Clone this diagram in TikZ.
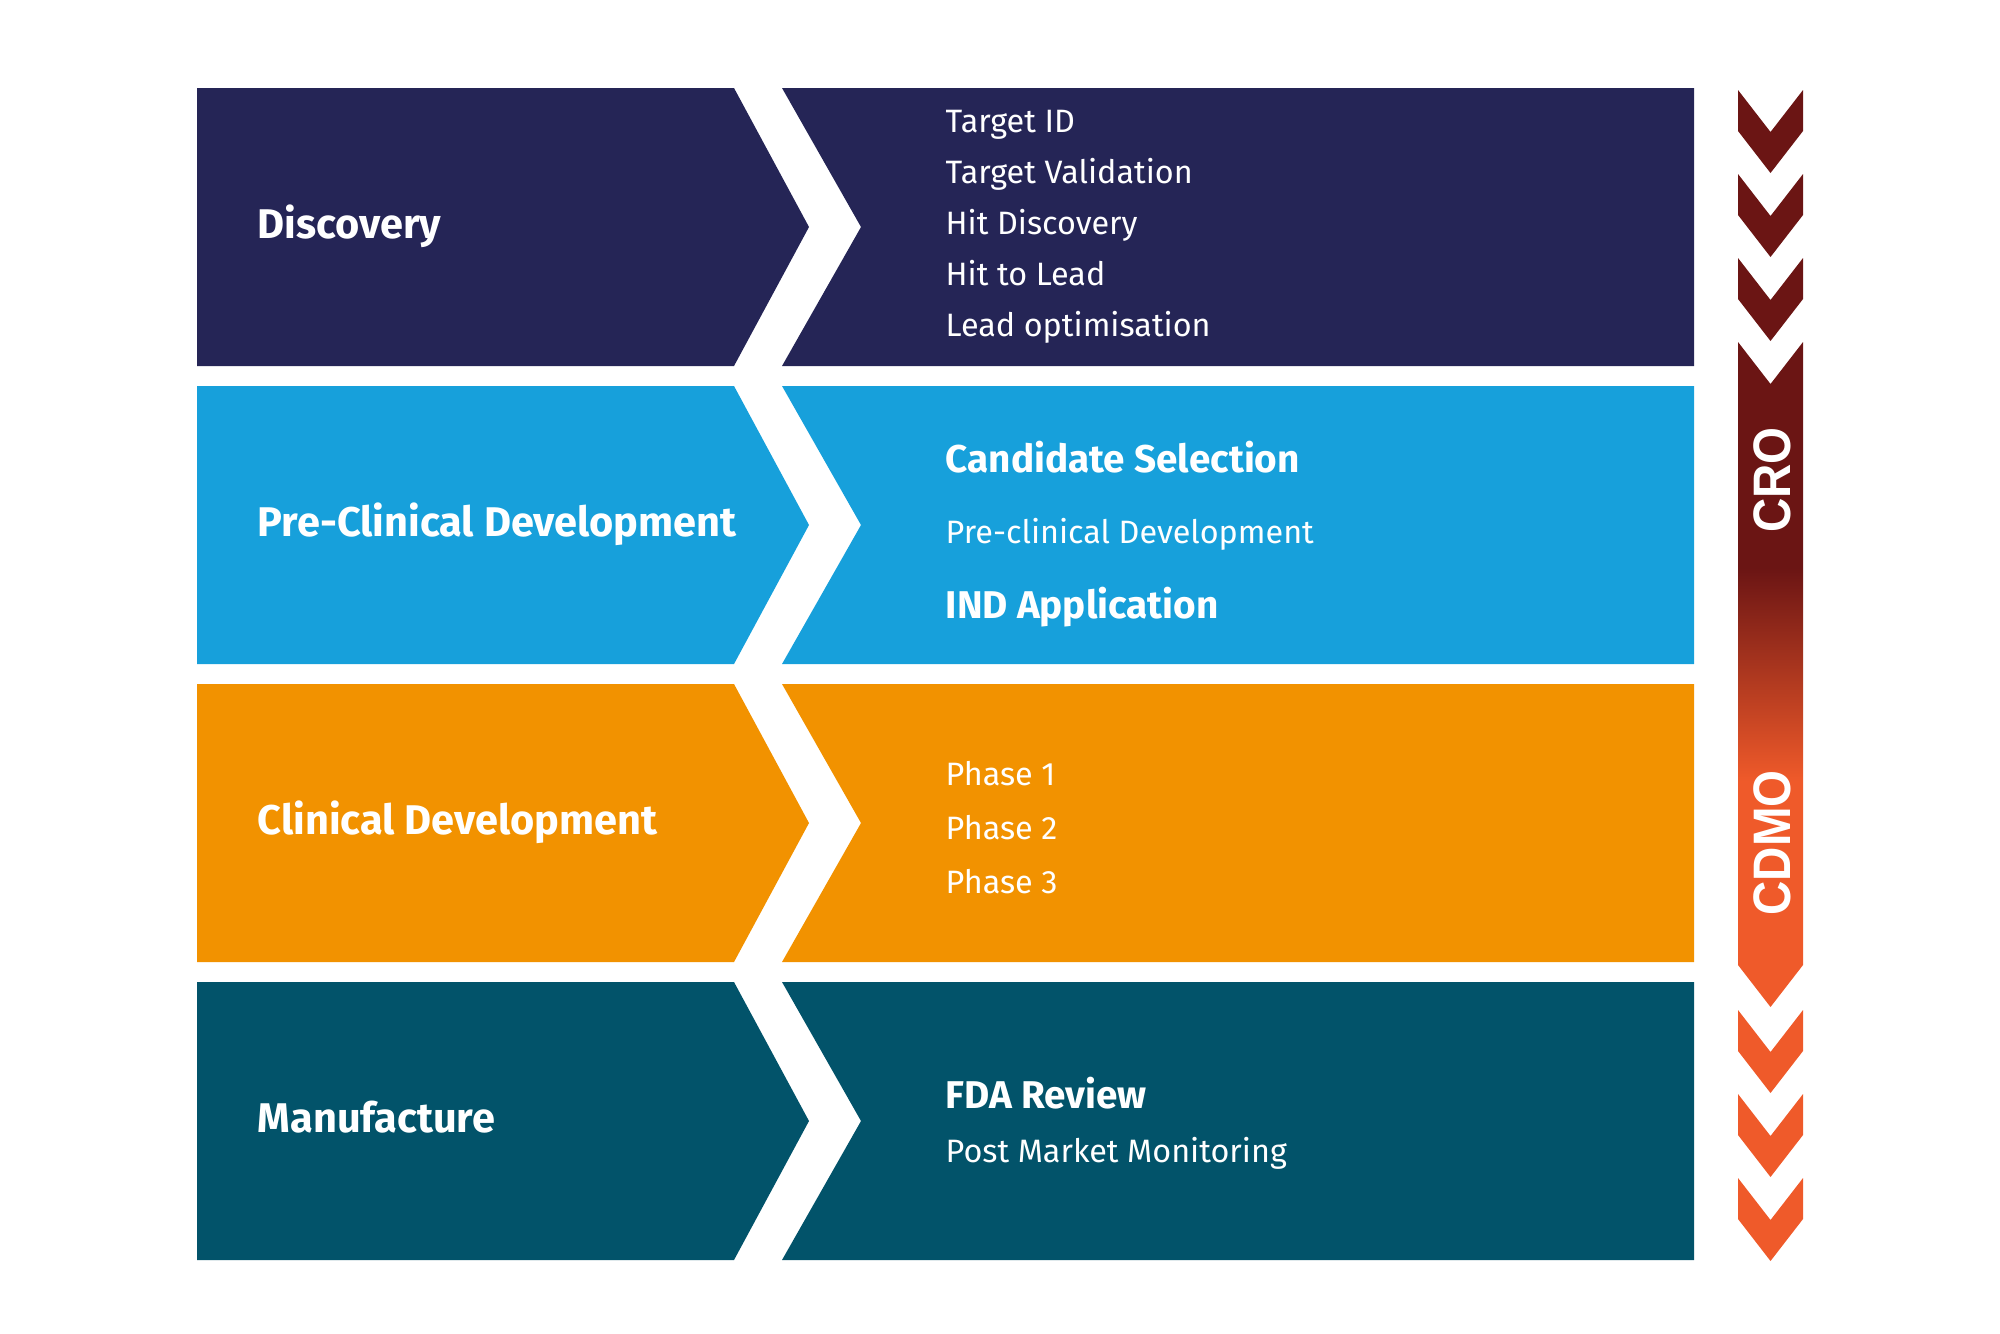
\documentclass[tikz,border=0pt]{standalone}
\usepackage{fontspec}
\setmainfont{Fira Sans}
\newfontfamily\tagfont[FakeStretch=0.9]{Liberation Sans}
\usetikzlibrary{positioning}

\definecolor{navy}{HTML}{252556}
\definecolor{sky}{HTML}{17A0DB}
\definecolor{amber}{HTML}{F29200}
\definecolor{petrol}{HTML}{02536A}
\definecolor{croRed}{HTML}{6B1514}
\definecolor{cdmoOrange}{HTML}{EF5A2A}

\pgfdeclareverticalshading{croshade}{100bp}{color(0bp)=(cdmoOrange); color(42bp)=(cdmoOrange); color(58bp)=(croRed); color(100bp)=(croRed)}

\tikzset{
	stage/.style={anchor=base west, inner sep=0pt, text=white, font=\bfseries\fontsize{11.8}{14}\selectfont},
	item/.style={anchor=base west, inner sep=0pt, text=white, font=\fontsize{9.2}{11}\selectfont},
	itembold/.style={item, font=\bfseries\fontsize{11}{13}\selectfont},
	tag/.style={text=white, rotate=90, font=\tagfont\bfseries\fontsize{15}{17}\selectfont},
}

\begin{document}
\begin{tikzpicture}[x=0.01cm, y=-0.01cm]
	\useasboundingbox (0,0) rectangle (2000,1333);
	
	% Stages
	\foreach \i/\col/\nm/\lbl in {0/navy/disc/Discovery, 1/sky/precl/Pre-Clinical Development, 2/amber/clin/Clinical Development, 3/petrol/manu/Manufacture}{
		\def\rtop{88+298*\i}
		\def\rmid{227+298*\i}
		\def\rbot{366+298*\i}
		\fill[\col] (197,\rtop) -- (734,\rtop) -- (809,\rmid) -- (734,\rbot) -- (197,\rbot) -- cycle;
		\fill[\col] (782,\rtop) -- (1694,\rtop) -- (1694,\rbot) -- (782,\rbot) -- (861,\rmid) -- cycle;
		\node[stage] (\nm) at (257,\rmid+11) {\lbl};
	}
	
	% Discovery steps
	\foreach \t [count=\k] in {Target ID, Target Validation, Hit Discovery, Hit to Lead, Lead optimisation}
		\node[item] (step\k) at (945,{81.7+51*\k}) {\t};
	
	% Pre-clinical steps
	\node[itembold] (cand) at (945,472) {Candidate Selection};
	\node[item] (precldev) at (945,543) {Pre-clinical Development};
	\node[itembold] (ind) at (945,618) {IND Application};
	
	% Clinical phases
	\foreach \k in {1,2,3}
		\node[item] (phase\k) at (945,{732+53.8*\k}) {Phase \k};
	
	% Manufacture steps
	\node[itembold] (fda) at (945,1108) {FDA Review};
	\node[item] (pmm) at (945,1162) {Post Market Monitoring};
	
	% CRO chevrons
	\foreach \y in {90,174,258}
		\fill[croRed] (1738,\y) -- (1770.5,\y+42) -- (1803,\y) -- (1803,\y+41) -- (1770.5,\y+83) -- (1738,\y+41) -- cycle;
	
	% Bar
	\shade[shading=croshade] (1738,342) -- (1770.5,384) -- (1803,342) -- (1803,965) -- (1770.5,1007) -- (1738,965) -- cycle;
	
	% CDMO chevrons
	\foreach \y in {1010,1094,1178}
		\fill[cdmoOrange] (1738,\y) -- (1770.5,\y+42) -- (1803,\y) -- (1803,\y+41) -- (1770.5,\y+83) -- (1738,\y+41) -- cycle;
	
	\node[tag] (cro) at (1772,480) {CRO};
	\node[tag] (cdmo) at (1772,843) {CDMO};
\end{tikzpicture}
\end{document}
